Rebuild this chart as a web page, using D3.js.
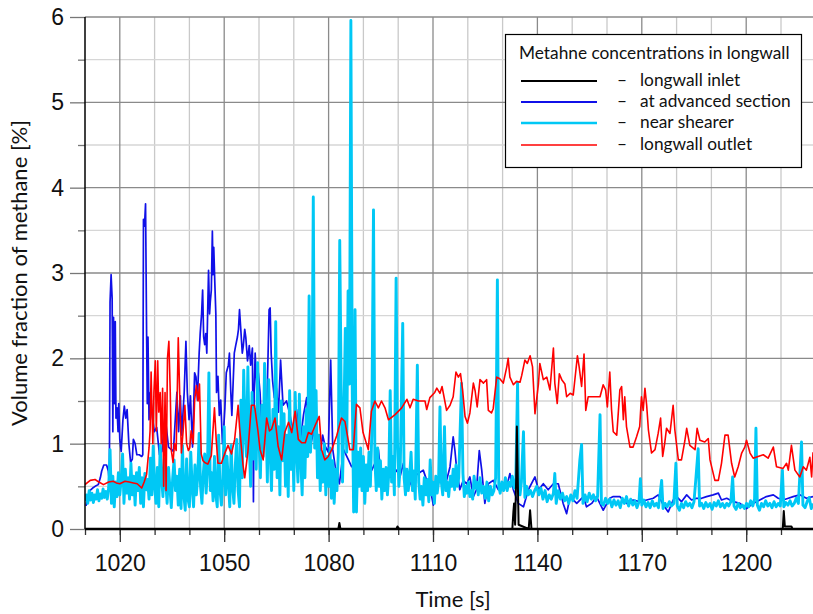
<!DOCTYPE html>
<html><head><meta charset="utf-8">
<script src="https://cdn.jsdelivr.net/npm/d3@7"></script>
<style>body{margin:0;background:#fff}svg{display:block}</style>
</head><body><svg id="c" width="813" height="614"></svg>
<script>
// ---- data: [time s, volume fraction %] ----
const inlet = [[1010,0],[1082.8,0],[1083.1,0.07],[1083.4,0],[1099.5,0],[1099.8,0.03],[1100.3,0],[1132.8,0],[1133.1,0.2],[1133.3,0.3],[1133.6,0.05],[1133.9,0.6],[1134.1,1.2],[1134.4,0.5],[1134.6,0.05],[1137.5,0],[1137.9,0.22],[1138.3,0],[1210.5,0],[1210.8,0.21],[1211.1,0.03],[1213,0.03],[1213.3,0],[1220,0]];

const advanced = [[1010.3,0.27],[1010.8,0.38],[1011.4,0.45],[1012.2,0.48],[1012.9,0.50],[1013.8,0.52],[1014.4,0.60],[1014.8,0.68],[1015.4,0.75],[1016.2,0.75],[1016.7,0.68],[1017.0,0.55],[1017.2,2.66],[1017.5,2.98],[1017.8,2.70],[1018.0,1.14],[1018.2,2.48],[1018.5,1.47],[1018.7,2.43],[1018.9,1.30],[1019.2,1.42],[1019.5,1.14],[1019.7,1.47],[1020.0,1.05],[1020.4,0.91],[1020.9,1.28],[1021.3,1.44],[1021.7,1.30],[1022.1,1.40],[1022.6,1.00],[1023.1,0.78],[1023.6,0.82],[1023.9,1.05],[1024.4,1.00],[1024.9,0.87],[1025.6,0.87],[1026.3,0.85],[1026.6,0.87],[1026.8,3.63],[1027.1,3.55],[1027.4,3.81],[1027.7,2.29],[1027.9,1.47],[1028.1,2.25],[1028.4,1.28],[1028.8,1.60],[1029.2,1.37],[1029.9,1.14],[1030.6,1.19],[1031.4,0.87],[1032.1,0.91],[1033.0,1.33],[1034.0,0.96],[1035.4,0.91],[1036.4,1.60],[1036.9,1.14],[1037.4,1.56],[1037.8,1.10],[1038.5,1.60],[1039.0,2.20],[1039.4,1.60],[1039.9,1.28],[1040.3,1.56],[1040.9,0.96],[1041.5,1.83],[1041.9,1.78],[1042.3,1.51],[1042.8,2.06],[1043.1,2.29],[1043.5,2.52],[1043.8,2.80],[1044.1,2.25],[1044.4,2.16],[1044.7,2.29],[1045.0,2.06],[1045.5,3.03],[1045.8,2.52],[1046.0,2.66],[1046.3,2.80],[1046.6,3.49],[1046.8,2.98],[1047.0,3.30],[1047.3,2.89],[1047.6,2.52],[1047.8,1.60],[1048.2,1.79],[1048.6,1.33],[1049.0,1.51],[1049.5,1.00],[1049.8,1.14],[1050.2,1.42],[1050.6,1.83],[1051.2,1.92],[1051.5,2.06],[1051.9,1.60],[1052.2,1.33],[1052.9,2.06],[1053.3,2.15],[1053.8,2.25],[1054.1,2.34],[1054.4,2.57],[1054.7,2.38],[1055.2,2.06],[1055.5,2.15],[1055.9,2.34],[1056.2,2.25],[1056.7,1.97],[1057.2,2.15],[1057.6,1.92],[1058.1,2.12],[1058.4,0.32],[1058.6,1.60],[1058.9,2.06],[1059.4,1.60],[1059.8,1.83],[1060.3,1.60],[1060.8,1.14],[1061.3,1.37],[1062.2,1.33],[1062.9,2.57],[1063.2,2.59],[1063.5,2.06],[1063.9,1.74],[1064.4,1.54],[1065.0,1.65],[1065.6,1.37],[1066.2,1.98],[1066.9,1.45],[1067.9,1.50],[1068.9,1.34],[1069.9,1.09],[1070.8,1.40],[1071.8,1.01],[1072.8,1.34],[1073.7,1.54],[1074.6,0.93],[1075.6,1.13],[1076.6,1.01],[1077.5,0.85],[1078.3,1.10],[1079.0,0.97],[1079.9,0.90],[1080.6,1.98],[1081.2,0.93],[1081.9,0.73],[1083.1,0.53],[1084.3,0.93],[1085.7,0.81],[1086.6,0.73],[1088.0,0.77],[1089.0,0.73],[1089.5,0.65],[1090.5,0.61],[1092.4,0.69],[1093.3,0.77],[1094.3,0.93],[1095.5,0.45],[1096.7,0.61],[1098.1,0.61],[1099.6,0.69],[1100.5,0.61],[1101.5,0.77],[1103.0,0.49],[1104.4,0.61],[1105.8,0.65],[1107.2,0.69],[1108.2,0.57],[1109.1,0.49],[1110.1,0.28],[1111.1,0.53],[1112.0,0.61],[1113.0,0.53],[1113.9,0.57],[1114.9,0.73],[1115.8,1.08],[1116.3,0.92],[1116.8,0.70],[1117.7,0.46],[1118.7,0.57],[1119.7,0.53],[1120.6,0.61],[1121.6,0.38],[1122.5,0.46],[1123.3,0.92],[1124.0,0.69],[1124.9,0.30],[1125.9,0.53],[1127.3,0.57],[1128.8,0.46],[1129.7,0.53],[1131.2,0.50],[1132.1,0.65],[1133.1,0.46],[1134.5,0.30],[1136.0,0.26],[1137.4,0.46],[1139.3,0.61],[1140.3,0.46],[1141.7,0.53],[1143.1,0.46],[1144.6,0.53],[1146.0,0.53],[1147.4,0.30],[1148.4,0.18],[1149.4,0.38],[1151.3,0.30],[1153.2,0.38],[1154.1,0.26],[1155.6,0.30],[1157.0,0.38],[1158.9,0.22],[1160.8,0.36],[1161.8,0.38],[1163.7,0.38],[1165.6,0.30],[1167.5,0.34],[1169.4,0.32],[1171.4,0.34],[1173.3,0.36],[1174.7,0.40],[1176.2,0.28],[1177.6,0.20],[1179.0,0.34],[1180.0,0.38],[1181.4,0.32],[1182.9,0.40],[1184.3,0.34],[1185.7,0.36],[1187.2,0.36],[1188.6,0.38],[1190.5,0.40],[1192.0,0.42],[1192.9,0.34],[1194.4,0.36],[1196.3,0.32],[1198.2,0.30],[1200.1,0.24],[1202.0,0.30],[1203.9,0.34],[1205.8,0.38],[1207.8,0.40],[1209.2,0.36],[1210.6,0.34],[1212.1,0.36],[1213.5,0.38],[1215.4,0.40],[1217.3,0.36],[1219.2,0.38]];

const shearer = [[1010.0,0.33],[1010.4,0.40],[1010.8,0.30],[1011.2,0.45],[1011.6,0.34],[1012.0,0.42],[1012.4,0.31],[1012.8,0.40],[1013.2,0.35],[1013.6,0.46],[1014.0,0.33],[1014.4,0.41],[1014.8,0.36],[1015.2,0.47],[1015.6,0.37],[1016.0,0.44],[1016.4,0.35],[1016.8,0.48],[1017.2,0.93],[1017.6,0.30],[1018.0,0.62],[1018.4,0.26],[1018.8,0.55],[1019.2,0.38],[1019.6,0.66],[1020.0,0.40],[1020.4,0.58],[1020.8,0.88],[1021.2,0.30],[1021.6,0.70],[1022.0,0.42],[1022.4,0.60],[1022.8,0.35],[1023.2,0.77],[1023.6,0.40],[1024.0,0.62],[1024.4,0.28],[1024.8,0.66],[1025.2,0.45],[1025.6,0.72],[1026.0,0.30],[1026.4,0.60],[1026.8,0.26],[1027.2,0.65],[1027.6,0.46],[1028.0,0.58],[1028.4,0.35],[1028.8,0.83],[1029.2,0.40],[1029.6,0.97],[1030.0,0.50],[1030.4,0.30],[1030.8,0.72],[1031.2,0.26],[1031.6,0.98],[1032.0,0.60],[1032.4,0.38],[1032.8,0.82],[1033.2,0.55],[1033.6,0.30],[1034.0,0.72],[1034.4,0.48],[1034.8,0.25],[1035.2,0.60],[1035.6,0.81],[1036.0,0.45],[1036.4,0.62],[1036.8,0.28],[1037.2,0.70],[1037.6,0.24],[1038.0,0.98],[1038.4,0.40],[1038.8,0.22],[1039.2,0.82],[1039.6,0.35],[1040.0,0.26],[1040.4,0.90],[1040.8,0.48],[1041.2,0.26],[1041.6,0.75],[1042.0,0.40],[1042.4,0.62],[1042.8,1.12],[1043.2,0.50],[1043.6,0.30],[1044.0,0.65],[1044.4,0.88],[1044.8,0.42],[1045.2,0.70],[1045.6,1.83],[1046.0,0.45],[1046.4,0.66],[1046.8,0.33],[1047.2,0.85],[1047.6,0.40],[1048.0,0.26],[1048.4,1.10],[1048.8,0.45],[1049.2,0.28],[1049.6,0.60],[1050.0,1.20],[1050.4,0.40],[1050.8,0.85],[1051.2,0.55],[1051.6,0.26],[1052.0,0.98],[1052.4,0.50],[1052.8,0.30],[1053.2,0.75],[1053.6,1.05],[1054.0,0.45],[1054.4,0.26],[1054.8,1.51],[1055.2,0.60],[1055.6,1.86],[1056.0,1.20],[1056.4,0.85],[1056.8,1.90],[1057.2,1.00],[1057.6,0.50],[1058.0,1.60],[1058.4,0.82],[1058.8,1.40],[1059.2,0.70],[1059.6,1.95],[1060.0,1.05],[1060.4,0.60],[1060.8,1.45],[1061.2,0.85],[1061.6,1.94],[1062.0,1.30],[1062.4,0.55],[1062.8,1.75],[1063.2,0.90],[1063.6,0.45],[1064.0,1.40],[1064.4,0.70],[1064.8,2.43],[1065.2,0.60],[1065.6,1.20],[1066.0,0.40],[1066.4,1.50],[1066.8,0.80],[1067.2,1.35],[1067.6,0.50],[1068.0,1.10],[1068.4,0.38],[1068.8,1.62],[1069.2,0.70],[1069.6,1.20],[1070.0,0.45],[1070.4,1.60],[1070.8,0.90],[1071.2,0.55],[1071.6,1.58],[1072.0,0.80],[1072.4,0.40],[1072.8,1.20],[1073.2,0.60],[1073.6,1.40],[1074.0,0.85],[1074.4,2.73],[1074.8,0.90],[1075.2,1.30],[1075.6,3.89],[1076.0,0.95],[1076.4,1.62],[1076.8,0.60],[1077.2,1.10],[1077.6,0.45],[1078.0,0.90],[1078.4,0.55],[1078.8,1.00],[1079.2,0.40],[1079.6,0.85],[1080.0,0.50],[1080.4,0.95],[1080.8,0.36],[1081.2,0.80],[1081.6,0.30],[1082.0,0.70],[1082.4,0.45],[1082.8,0.90],[1083.2,3.38],[1083.6,1.70],[1084.0,0.55],[1084.4,1.30],[1084.8,2.35],[1085.2,0.90],[1085.6,2.79],[1086.0,1.70],[1086.4,5.96],[1086.8,1.60],[1087.2,0.20],[1087.6,2.57],[1088.0,0.20],[1088.4,0.90],[1088.8,0.50],[1089.2,0.95],[1089.6,0.45],[1090.0,0.85],[1090.4,0.30],[1090.8,0.75],[1091.2,0.45],[1091.6,0.90],[1092.0,0.50],[1092.4,1.10],[1092.9,3.74],[1093.3,0.80],[1093.7,0.45],[1094.1,0.95],[1094.5,0.50],[1094.9,0.80],[1095.3,0.35],[1095.7,0.70],[1096.1,0.45],[1096.5,0.72],[1096.9,0.40],[1097.3,0.65],[1097.7,1.62],[1098.1,0.55],[1098.5,0.85],[1098.9,0.40],[1099.4,2.94],[1099.8,1.00],[1100.2,0.50],[1100.6,0.75],[1101.3,2.41],[1101.7,0.60],[1102.1,0.40],[1102.5,0.70],[1102.9,0.45],[1103.3,0.62],[1103.7,0.90],[1104.1,0.45],[1104.5,0.68],[1104.9,0.35],[1105.5,1.92],[1105.9,0.55],[1106.3,0.35],[1106.7,0.50],[1107.1,0.28],[1107.5,0.60],[1108.0,0.40],[1108.4,0.58],[1108.8,0.32],[1109.2,0.81],[1109.6,0.40],[1110.0,0.55],[1110.4,0.30],[1110.8,0.62],[1111.2,0.42],[1111.6,0.55],[1112.0,1.43],[1112.4,0.55],[1112.8,0.40],[1113.3,1.20],[1113.7,0.45],[1114.1,0.55],[1114.5,0.38],[1115.0,0.62],[1115.4,0.50],[1115.8,0.70],[1116.2,0.46],[1116.6,0.75],[1117.0,0.50],[1117.4,0.60],[1118.2,1.71],[1118.6,0.65],[1119.0,0.38],[1119.4,0.50],[1119.8,0.42],[1120.2,0.55],[1120.6,0.38],[1121.0,0.45],[1121.4,0.35],[1121.8,0.62],[1122.2,0.48],[1122.6,0.55],[1123.0,0.40],[1123.5,0.60],[1124.0,0.42],[1124.5,0.50],[1125.0,0.36],[1125.5,0.55],[1126.0,0.33],[1126.5,0.50],[1127.0,0.40],[1127.5,0.45],[1128.0,0.60],[1128.5,2.92],[1128.9,0.50],[1129.3,0.42],[1129.8,0.55],[1130.3,0.45],[1130.8,0.60],[1131.3,0.45],[1131.8,0.55],[1132.3,0.50],[1132.8,0.62],[1133.3,0.48],[1133.8,0.58],[1134.3,1.71],[1134.6,0.52],[1135.0,0.40],[1135.4,0.55],[1136.0,1.14],[1136.4,0.37],[1136.9,0.50],[1137.4,0.40],[1138.0,0.45],[1138.6,0.38],[1139.2,0.45],[1139.8,0.50],[1140.4,0.40],[1141.0,0.48],[1141.6,0.35],[1142.2,0.45],[1142.8,0.32],[1143.4,0.40],[1144.0,0.35],[1144.6,0.42],[1145.0,0.65],[1145.4,0.30],[1146.0,0.45],[1146.6,0.35],[1147.2,0.42],[1147.8,0.33],[1148.4,0.38],[1149.0,0.30],[1149.6,0.40],[1150.2,0.33],[1150.8,0.45],[1151.4,0.36],[1152.2,0.81],[1152.7,0.99],[1153.1,0.30],[1153.7,0.40],[1154.3,0.32],[1154.9,0.42],[1155.5,0.35],[1156.1,0.40],[1156.7,0.33],[1157.3,0.38],[1158.0,1.34],[1158.4,0.30],[1159.0,0.28],[1159.6,0.36],[1160.2,0.30],[1160.8,0.35],[1161.4,0.26],[1162.0,0.34],[1162.6,0.28],[1163.2,0.33],[1163.8,0.25],[1164.4,0.36],[1165.0,0.30],[1165.6,0.38],[1166.2,0.27],[1166.8,0.35],[1167.4,0.28],[1168.0,0.33],[1168.6,0.25],[1169.2,0.32],[1169.6,0.59],[1170.0,0.28],[1170.6,0.34],[1171.2,0.26],[1171.8,0.31],[1172.4,0.25],[1173.0,0.33],[1173.6,0.27],[1174.2,0.30],[1174.8,0.25],[1175.7,0.57],[1176.1,0.24],[1176.7,0.30],[1177.3,0.26],[1177.9,0.32],[1178.5,0.27],[1179.2,0.30],[1179.8,0.77],[1180.2,0.27],[1180.8,0.22],[1181.4,0.30],[1182.0,0.25],[1182.6,0.32],[1183.2,0.27],[1183.8,0.30],[1184.4,0.25],[1185.0,0.32],[1185.5,0.57],[1186.2,0.94],[1186.6,0.27],[1187.2,0.30],[1187.8,0.24],[1188.4,0.31],[1189.0,0.26],[1189.6,0.30],[1190.2,0.23],[1190.8,0.31],[1191.4,0.27],[1192.0,0.33],[1192.6,0.26],[1193.2,0.30],[1193.8,0.25],[1194.4,0.30],[1195.0,0.27],[1195.6,0.32],[1196.1,0.61],[1196.5,0.27],[1197.1,0.23],[1197.7,0.30],[1198.3,0.25],[1198.9,0.28],[1199.5,0.24],[1200.1,0.30],[1200.7,0.26],[1201.3,0.33],[1201.9,0.27],[1202.4,0.35],[1202.8,1.18],[1203.2,0.28],[1203.8,0.22],[1204.4,0.30],[1205.0,0.26],[1205.6,0.33],[1206.2,0.27],[1206.8,0.30],[1207.4,0.25],[1208.0,0.32],[1208.6,0.26],[1209.2,0.30],[1209.8,0.27],[1210.4,0.69],[1210.8,0.26],[1211.4,0.31],[1212.0,0.28],[1212.6,0.33],[1213.2,0.27],[1213.8,0.30],[1214.4,0.36],[1215.0,0.30],[1215.9,1.02],[1216.3,0.28],[1216.9,0.25],[1217.5,0.32],[1218.1,0.37],[1218.7,0.24],[1219.2,0.30]];

const outlet = [[1010.0,0.52],[1011.5,0.57],[1012.9,0.58],[1014.0,0.55],[1015.3,0.52],[1016.8,0.55],[1018.1,0.56],[1019.0,0.54],[1020.0,0.53],[1021.5,0.56],[1022.7,0.55],[1023.9,0.54],[1025.0,0.53],[1026.3,0.48],[1027.0,0.55],[1027.7,0.64],[1028.4,0.95],[1028.7,1.15],[1029.0,1.84],[1029.3,1.30],[1029.5,1.00],[1029.8,1.60],[1030.2,1.97],[1030.5,1.15],[1030.9,1.97],[1031.2,1.37],[1031.6,1.60],[1031.9,1.00],[1032.3,1.65],[1032.6,0.50],[1033.0,1.60],[1033.3,0.45],[1033.7,2.00],[1034.1,2.20],[1034.5,1.60],[1034.8,0.92],[1035.3,0.78],[1035.7,1.00],[1036.2,0.92],[1036.8,2.24],[1037.2,1.60],[1037.7,0.89],[1038.2,1.15],[1038.7,1.45],[1039.2,1.00],[1039.7,0.92],[1040.1,0.95],[1040.5,1.15],[1041.1,1.00],[1041.5,1.51],[1042.0,1.68],[1042.5,1.50],[1042.9,1.70],[1043.4,0.88],[1043.9,0.80],[1044.4,0.78],[1045.3,0.76],[1046.3,0.86],[1047.2,1.42],[1047.7,1.05],[1048.2,0.77],[1049.2,0.77],[1050.1,0.88],[1051.1,0.98],[1052.1,0.88],[1053.0,1.05],[1054.0,1.45],[1054.4,1.20],[1055.4,0.75],[1055.9,0.60],[1056.8,0.90],[1057.8,1.45],[1058.7,1.45],[1059.7,1.15],[1060.3,0.93],[1061.2,0.81],[1062.2,1.30],[1063.0,1.15],[1063.6,1.17],[1064.6,1.30],[1065.5,0.97],[1066.5,0.81],[1067.4,1.13],[1068.5,1.25],[1069.4,1.13],[1070.4,1.38],[1071.3,1.05],[1072.3,1.01],[1073.3,1.01],[1074.2,1.13],[1075.1,1.11],[1076.1,1.21],[1077.3,1.32],[1078.0,0.93],[1078.9,0.81],[1079.9,0.85],[1080.9,0.93],[1082.3,1.09],[1083.7,1.30],[1084.7,1.26],[1086.1,0.93],[1087.1,0.93],[1088.0,1.46],[1089.0,1.42],[1089.9,1.13],[1091.4,0.93],[1092.3,1.38],[1093.3,1.50],[1094.3,1.42],[1095.2,1.50],[1096.2,1.42],[1097.2,1.28],[1099.1,1.34],[1101.0,1.42],[1102.5,1.52],[1103.4,1.42],[1104.3,1.52],[1105.8,1.50],[1107.7,1.50],[1108.2,1.40],[1109.1,1.54],[1110.5,1.60],[1111.1,1.65],[1112.0,1.59],[1112.6,1.67],[1113.9,1.39],[1114.9,1.45],[1115.8,1.55],[1116.6,1.84],[1117.3,1.78],[1117.9,1.82],[1118.5,1.63],[1119.2,1.32],[1119.9,1.24],[1120.6,1.36],[1121.6,1.71],[1122.1,1.62],[1122.7,1.43],[1123.5,1.75],[1124.5,1.71],[1125.4,1.75],[1125.9,1.39],[1126.8,1.36],[1127.3,1.41],[1128.3,1.78],[1129.2,1.76],[1130.2,1.71],[1131.2,1.90],[1131.6,2.00],[1132.1,1.78],[1133.1,1.69],[1134.0,1.73],[1135.0,1.72],[1135.5,1.80],[1136.4,1.98],[1137.1,1.94],[1137.9,2.03],[1138.6,1.90],[1139.3,1.35],[1140.3,1.70],[1140.7,1.94],[1141.7,1.75],[1142.7,1.78],[1143.6,1.63],[1144.6,2.12],[1145.0,1.71],[1145.7,1.47],[1146.3,1.82],[1147.0,1.75],[1147.9,1.70],[1148.4,1.55],[1149.4,1.59],[1150.3,1.57],[1151.5,2.03],[1152.0,1.90],[1152.7,1.67],[1153.4,2.05],[1153.9,1.39],[1154.6,1.55],[1158.0,1.55],[1158.9,1.69],[1159.6,1.63],[1160.1,1.43],[1160.8,1.84],[1161.3,1.40],[1161.8,1.14],[1162.8,1.10],[1163.7,1.63],[1164.2,1.67],[1164.7,1.28],[1165.1,1.55],[1165.6,1.20],[1166.6,0.96],[1167.5,0.96],[1168.5,1.08],[1169.4,1.20],[1169.9,1.55],[1170.4,1.39],[1170.9,1.65],[1171.4,1.45],[1171.9,1.16],[1172.8,0.89],[1173.8,0.93],[1174.7,1.12],[1175.4,1.30],[1176.0,0.85],[1176.6,1.01],[1177.1,1.18],[1178.1,1.12],[1179.0,1.45],[1179.5,1.16],[1180.5,0.81],[1181.4,0.81],[1182.4,1.04],[1182.9,1.18],[1183.8,0.98],[1185.3,0.93],[1185.9,1.18],[1186.7,1.04],[1188.1,1.02],[1189.1,1.06],[1189.6,0.81],[1191.0,0.57],[1192.0,0.57],[1192.9,0.77],[1193.9,1.10],[1194.8,1.10],[1195.8,0.77],[1196.7,0.61],[1197.7,0.73],[1198.7,0.89],[1199.6,0.96],[1200.1,1.04],[1201.1,0.89],[1202.0,0.83],[1203.4,0.85],[1204.9,0.87],[1206.3,0.83],[1207.8,0.96],[1208.7,0.73],[1210.6,0.71],[1211.6,0.77],[1212.1,0.69],[1213.0,0.98],[1214.0,0.69],[1215.4,0.61],[1216.4,0.73],[1217.3,0.69],[1218.3,0.84],[1218.8,0.61],[1219.2,0.90]];

const xLabelTicks = [1020,1050,1080,1110,1140,1170,1200];
const yLabelTicks = [0,1,2,3,4,5,6];
const legendTitle = "Metahne concentrations in longwall";
const seriesNames = ["longwall inlet","at advanced section","near shearer","longwall outlet"];
const seriesColors = ["#000000","#1010e8","#00c8f5","#ff0000"];
const xTitle = "Time [s]";
const yTitle = "Volume fraction of methane [%]";

// ---- drawing ----
const W = 813, H = 614;
const svg = d3.select("#c");
const x = d3.scaleLinear().domain([1010, 1220]).range([85, 85 + 210 * 3.48]);
const y = d3.scaleLinear().domain([0, 6]).range([529, 17]);
const right = W;

// grid
const g = svg.append("g");
const minorX = d3.range(1020, 1220, 10).filter(v => !xLabelTicks.includes(v));
const minorY = d3.range(0.5, 6, 1);
g.selectAll(".gxm").data(minorX).join("line")
  .attr("x1", d => x(d)).attr("x2", d => x(d)).attr("y1", y(6)).attr("y2", y(0))
  .attr("stroke", "#c9c9c9").attr("stroke-width", 1.3);
g.selectAll(".gym").data(minorY).join("line")
  .attr("x1", 85).attr("x2", right).attr("y1", d => y(d)).attr("y2", d => y(d))
  .attr("stroke", "#d6d6d6").attr("stroke-width", 1.3);
g.selectAll(".gxM").data(xLabelTicks).join("line")
  .attr("x1", d => x(d)).attr("x2", d => x(d)).attr("y1", y(6)).attr("y2", y(0))
  .attr("stroke", "#8a8a8a").attr("stroke-width", 1.3);
g.selectAll(".gyM").data(yLabelTicks.filter(v => v > 0)).join("line")
  .attr("x1", 85).attr("x2", right).attr("y1", d => y(d)).attr("y2", d => y(d))
  .attr("stroke", "#8a8a8a").attr("stroke-width", 1.3);

// series
svg.append("clipPath").attr("id", "pc").append("rect")
  .attr("x", 85).attr("y", 0).attr("width", W - 85).attr("height", y(0));
const line = d3.line().x(d => x(d[0])).y(d => y(d[1]));
const plot = svg.append("g").attr("clip-path", "url(#pc)");
plot.append("path").datum(advanced).attr("d", line).attr("fill", "none")
  .attr("stroke", seriesColors[1]).attr("stroke-width", 1.7).attr("stroke-linejoin", "round");
plot.append("path").datum(shearer).attr("d", line).attr("fill", "none")
  .attr("stroke", seriesColors[2]).attr("stroke-width", 2.9).attr("stroke-linejoin", "round");
plot.append("path").datum(outlet).attr("d", line).attr("fill", "none")
  .attr("stroke", seriesColors[3]).attr("stroke-width", 1.6).attr("stroke-linejoin", "round");

// axes
const fontAxis = "'Liberation Sans', Arial, sans-serif";
const xMinorAxis = d3.axisBottom(x).tickValues(d3.range(1010, 1220, 10)).tickSize(6).tickFormat("").tickSizeOuter(0);
const xMajorAxis = d3.axisBottom(x).tickValues(xLabelTicks).tickSize(13).tickPadding(13).tickFormat(d3.format("d")).tickSizeOuter(0);
const ax1 = svg.append("g").attr("transform", `translate(0,${y(0)})`).call(xMinorAxis);
const ax2 = svg.append("g").attr("transform", `translate(0,${y(0)})`).call(xMajorAxis);
[ax1, ax2].forEach(a => { a.select(".domain").remove(); a.selectAll("line").attr("stroke", "#333").attr("stroke-width", 1.3); });
ax2.selectAll("text").attr("font-family", fontAxis).attr("font-size", 23).attr("fill", "#111");

const yMinorAxis = d3.axisLeft(y).tickValues(minorY).tickSize(7).tickFormat("").tickSizeOuter(0);
const yMajorAxis = d3.axisLeft(y).tickValues(yLabelTicks).tickSize(15).tickPadding(6).tickFormat(d3.format("d")).tickSizeOuter(0);
const ay1 = svg.append("g").attr("transform", "translate(85,0)").call(yMinorAxis);
const ay2 = svg.append("g").attr("transform", "translate(85,0)").call(yMajorAxis);
[ay1, ay2].forEach(a => { a.select(".domain").remove(); a.selectAll("line").attr("stroke", "#777").attr("stroke-width", 1.3); });
ay2.selectAll("text").attr("font-family", fontAxis).attr("font-size", 23).attr("fill", "#111");

svg.append("line").attr("x1", 85).attr("x2", 85).attr("y1", y(6)).attr("y2", y(0))
  .attr("stroke", "#000").attr("stroke-width", 1.5);

// inlet on top (lies on the zero line)
plot.append("path").datum(inlet).attr("d", line).attr("fill", "none")
  .attr("stroke", seriesColors[0]).attr("stroke-width", 2).attr("stroke-linejoin", "round");
svg.append("line").attr("x1", 85).attr("x2", W).attr("y1", y(0)).attr("y2", y(0))
  .attr("stroke", "#000").attr("stroke-width", 2.6);

// titles
const fontText = "Lato, 'Open Sans', sans-serif";
svg.append("text").attr("x", 453).attr("y", 607).attr("text-anchor", "middle")
  .attr("font-family", fontText).attr("font-size", 22).attr("fill", "#111").text(xTitle);
svg.append("text").attr("transform", "translate(27,273) rotate(-90)").attr("text-anchor", "middle")
  .attr("font-family", fontText).attr("font-size", 22).attr("fill", "#111").text(yTitle);

// legend
const lg = svg.append("g");
lg.append("rect").attr("x", 505.5).attr("y", 34.5).attr("width", 296).attr("height", 133)
  .attr("fill", "#fff").attr("stroke", "#000").attr("stroke-width", 1.2);
lg.append("text").attr("x", 519).attr("y", 59).attr("font-family", fontText).attr("font-size", 17.3)
  .attr("fill", "#111").text(legendTitle);
const rowY = [81, 102, 123, 145];
const legendW = [2.2, 2, 2.6, 1.6];
seriesNames.forEach((name, i) => {
  lg.append("line").attr("x1", 521).attr("x2", 597).attr("y1", rowY[i]).attr("y2", rowY[i])
    .attr("stroke", seriesColors[i]).attr("stroke-width", legendW[i]);
  lg.append("text").attr("x", 617).attr("y", rowY[i] + 5).attr("font-family", fontText).attr("font-size", 17.3)
    .attr("fill", "#111").text("\u2013");
  lg.append("text").attr("x", 640).attr("y", rowY[i] + 5).attr("font-family", fontText).attr("font-size", 17.3)
    .attr("fill", "#111").text(name);
});
</script></body></html>
